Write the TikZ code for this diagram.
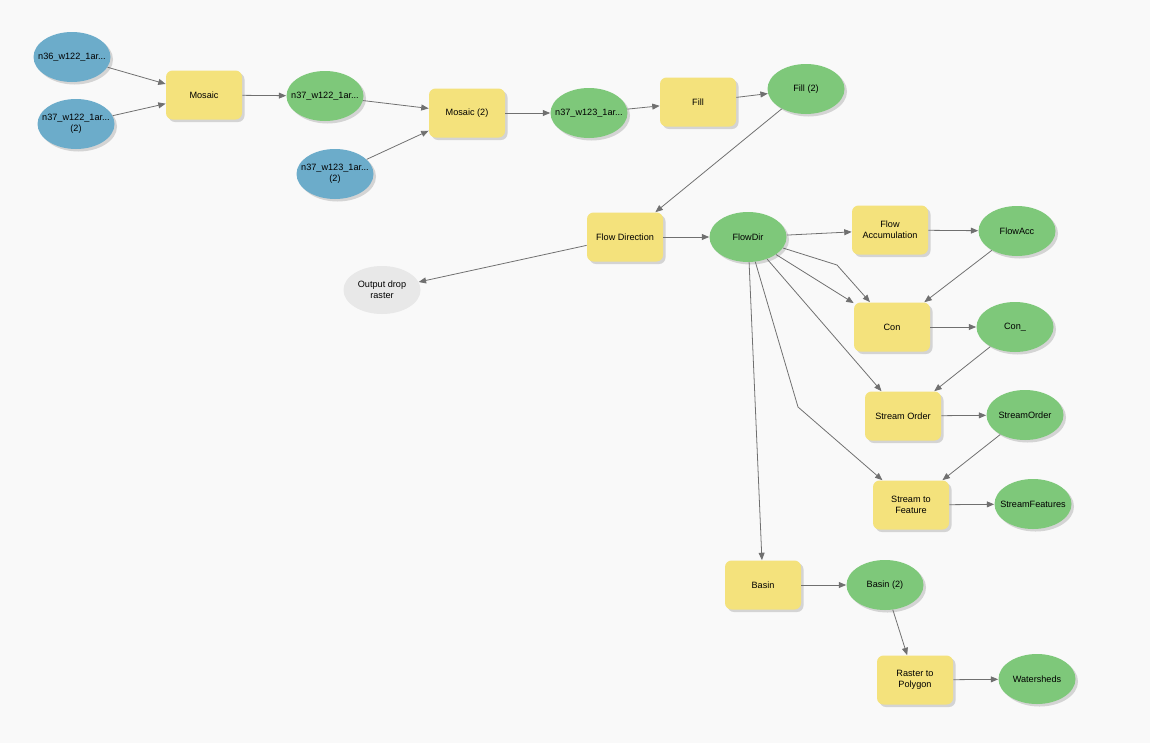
\documentclass[tikz,border=0pt]{standalone}
\usepackage{fontspec}
\setmainfont{Liberation Sans}
\usepackage{xcolor}
\usepackage{tikz}
\usetikzlibrary{arrows.meta,positioning,calc,shapes.geometric,shadows}

\definecolor{bgc}{RGB}{249,249,249}
\definecolor{toolc}{RGB}{244,226,124}
\definecolor{outc}{RGB}{126,200,122}
\definecolor{inc}{RGB}{108,172,202}
\definecolor{grayc}{RGB}{232,232,232}
\definecolor{linec}{RGB}{112,112,112}

\begin{document}
\begin{tikzpicture}[>={Triangle[length=4.2pt,width=3.4pt]},
   font=\fontsize{5.2}{6.3}\selectfont,
   shd/.style={drop shadow={shadow xshift=0.05cm,shadow yshift=-0.05cm,opacity=0.25,fill=black!60}},
   tl/.style={rectangle,rounded corners=0.13cm,fill=toolc,minimum width=1.52cm,minimum height=0.98cm,align=center,inner sep=1pt,shd},
   el/.style={ellipse,minimum width=1.54cm,minimum height=1.0cm,align=center,inner xsep=-0.2cm,inner ysep=0pt},
   gr/.style={el,fill=outc,shd},
   bl/.style={el,fill=inc,shd},
   gy/.style={el,fill=grayc,minimum height=0.96cm},
   ln/.style={->,draw=linec,line width=0.45pt}]
  \fill[bgc] (0,0) rectangle (23,-14.86);
  \useasboundingbox (0,0) rectangle (23,-14.86);
  % inputs and mosaics
  \node[bl] (n36) at (1.44,-1.14) {n36\_w122\_1ar...};
  \node[bl] (n37a) at (1.52,-2.48) {n37\_w122\_1ar...\\(2)};
  \node[tl] (mos) at (4.08,-1.90) {Mosaic};
  \node[gr] (m1) at (6.50,-1.92) {n37\_w122\_1ar...};
  \node[bl] (n37b) at (6.70,-3.48) {n37\_w123\_1ar...\\(2)};
  \node[tl] (mos2) at (9.34,-2.26) {Mosaic (2)};
  \node[gr] (m2) at (11.78,-2.26) {n37\_w123\_1ar...};
  \node[tl] (fill) at (13.96,-2.04) {Fill};
  \node[gr] (fill2) at (16.12,-1.78) {Fill (2)};
  % flow direction
  \node[tl] (fdir) at (12.50,-4.74) {Flow Direction};
  \node[gr] (fdout) at (14.96,-4.74) {FlowDir};
  \node[gy] (drop) at (7.64,-5.80) {Output drop\\raster};
  % streams
  \node[tl] (facc) at (17.80,-4.60) {Flow\\Accumulation};
  \node[gr] (faout) at (20.34,-4.62) {FlowAcc};
  \node[tl] (con) at (17.84,-6.54) {Con};
  \node[gr] (conout) at (20.30,-6.54) {Con\_};
  \node[tl] (sord) at (18.06,-8.32) {Stream Order};
  \node[gr] (soout) at (20.50,-8.30) {StreamOrder};
  \node[tl] (sfeat) at (18.22,-10.10) {Stream to\\Feature};
  \node[gr] (sfout) at (20.66,-10.08) {StreamFeatures};
  % basins
  \node[tl] (bas) at (15.26,-11.70) {Basin};
  \node[gr] (basout) at (17.70,-11.70) {Basin (2)};
  \node[tl] (rpoly) at (18.30,-13.60) {Raster to\\Polygon};
  \node[gr] (wsh) at (20.74,-13.58) {Watersheds};
  \coordinate (k1) at (16.74,-5.30);
  \coordinate (k2) at (15.96,-8.14);
  % connectors
  \draw[ln] (n36) -- (mos);
  \draw[ln] (n37a) -- (mos);
  \draw[ln] (mos) -- (m1);
  \draw[ln] (m1) -- (mos2);
  \draw[ln] (n37b) -- (mos2);
  \draw[ln] (mos2) -- (m2);
  \draw[ln] (m2) -- (fill);
  \draw[ln] (fill) -- (fill2);
  \draw[ln] (fill2) -- (fdir);
  \draw[ln] (fdir) -- (fdout);
  \draw[ln] (fdir) -- (drop);
  \draw[ln] (fdout) -- (facc);
  \draw[ln] (facc) -- (faout);
  \draw[ln] (fdout) -- (con);
  \draw[ln] (fdout) -- (k1) -- (con);
  \draw[ln] (faout) -- (con);
  \draw[ln] (con) -- (conout);
  \draw[ln] (conout) -- (sord);
  \draw[ln] (fdout) -- (sord);
  \draw[ln] (sord) -- (soout);
  \draw[ln] (soout) -- (sfeat);
  \draw[ln] (fdout) -- (k2) -- (sfeat);
  \draw[ln] (sfeat) -- (sfout);
  \draw[ln] (fdout) -- (bas);
  \draw[ln] (bas) -- (basout);
  \draw[ln] (basout) -- (rpoly);
  \draw[ln] (rpoly) -- (wsh);
\end{tikzpicture}
\end{document}
